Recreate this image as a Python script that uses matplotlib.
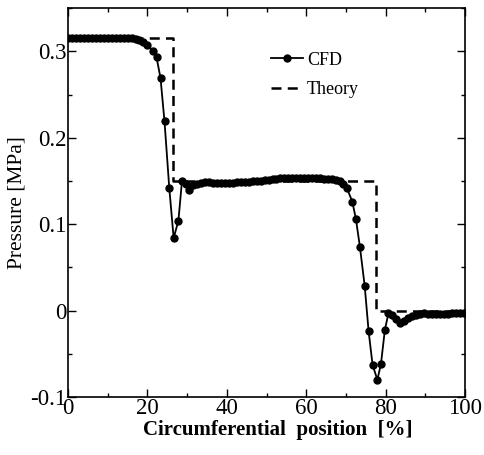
import matplotlib
matplotlib.use("Agg")
import matplotlib.pyplot as plt
from matplotlib.ticker import MultipleLocator

# CFD data (circumferential position %, pressure MPa)
cfd_x = [0, 1, 2, 3, 4, 5, 6, 7, 8, 9, 10, 11, 12, 13, 14, 15, 16, 17, 18, 19, 20,
         21.4, 22.3, 23.3, 24.3, 25.5, 26.6, 27.8, 28.7, 29.6, 30.5, 31.5, 32.5, 33.5,
         34.5, 35.5, 36.5, 37.5, 38.5, 39.5, 40.5, 41.5, 42.5, 43.5, 44.5, 45.5, 46.5,
         47.5, 48.5, 49.5, 50.5, 51.5, 52.5, 53.5, 54.5, 55.5, 56.5, 57.5, 58.5, 59.5,
         60.5, 61.5, 62.5, 63.5, 64.5, 65.5, 66.5, 67.5, 68.4, 69.3, 70.2, 71.6, 72.5,
         73.5, 74.7, 75.7, 76.7, 77.9, 78.8, 79.8, 80.7, 81.7, 82.7, 83.7, 84.7, 85.7,
         86.7, 87.7, 88.7, 89.7, 90.7, 91.7, 92.7, 93.7, 94.7, 95.7, 96.7, 97.7, 98.7,
         99.7]
cfd_y = [0.315, 0.315, 0.315, 0.315, 0.315, 0.315, 0.315, 0.315, 0.315, 0.315, 0.315,
         0.315, 0.315, 0.315, 0.315, 0.315, 0.315, 0.314, 0.313, 0.311, 0.307,
         0.301, 0.293, 0.269, 0.219, 0.142, 0.084, 0.104, 0.150, 0.146, 0.140, 0.145,
         0.147, 0.148, 0.149, 0.149, 0.148, 0.148, 0.148, 0.148, 0.148, 0.148, 0.149,
         0.149, 0.149, 0.149, 0.150, 0.150, 0.150, 0.151, 0.151, 0.152, 0.152, 0.153,
         0.153, 0.153, 0.153, 0.153, 0.153, 0.153, 0.153, 0.153, 0.153, 0.153, 0.152,
         0.152, 0.152, 0.151, 0.150, 0.147, 0.142, 0.126, 0.106, 0.074, 0.029, -0.024,
         -0.063, -0.080, -0.062, -0.022, -0.003, -0.005, -0.010, -0.014, -0.012,
         -0.008, -0.006, -0.005, -0.004, -0.003, -0.004, -0.004, -0.004, -0.004,
         -0.004, -0.004, -0.003, -0.003, -0.003, -0.003]

# Theory (step profile)
theory_x = [0, 26.5, 26.5, 77.6, 77.6, 100]
theory_y = [0.315, 0.315, 0.150, 0.150, 0.0, 0.0]

plt.rcParams['font.family'] = ['Liberation Serif', 'DejaVu Serif']

fig = plt.figure(figsize=(4.84, 4.55), dpi=100)
ax = fig.add_axes([0.1405, 0.1275, 0.8205, 0.8545])

ax.plot(cfd_x, cfd_y, color='black', lw=1.3, marker='o', markersize=5,
        label='CFD')
ax.plot(theory_x, theory_y, color='black', lw=1.8, linestyle=(0, (4, 2.5)),
        label='Theory')

ax.set_xlim(0, 100)
ax.set_ylim(-0.1, 0.35)
ax.xaxis.set_minor_locator(MultipleLocator(10))
ax.yaxis.set_minor_locator(MultipleLocator(0.05))
ax.set_xticks([0, 20, 40, 60, 80, 100])
ax.set_xticklabels(['0', '20', '40', '60', '80', '100'])
ax.set_yticks([-0.1, 0, 0.1, 0.2, 0.3])
ax.set_yticklabels(['-0.1', '0', '0.1', '0.2', '0.3'])

ax.tick_params(which='both', direction='in', top=True, right=True, labelsize=16.5)
ax.tick_params(axis='x', pad=1)
ax.tick_params(axis='y', pad=1)
ax.tick_params(which='major', length=6, width=1)
ax.tick_params(which='minor', length=3, width=1)
for s in ax.spines.values():
    s.set_linewidth(1.2)

ax.set_xlabel('Circumferential  position  [%]', fontsize=15, fontweight='bold')
ax.xaxis.set_label_coords(0.527, -0.058)
ax.set_ylabel('Pressure [MPa]', fontsize=15.5)
ax.yaxis.set_label_coords(-0.105, 0.5)

leg = ax.legend(loc='upper left', bbox_to_anchor=(0.47, 0.93), frameon=False,
                fontsize=13, handlelength=1.8, handletextpad=0.2,
                labelspacing=0.7)

fig.savefig('out.png', dpi=100)
